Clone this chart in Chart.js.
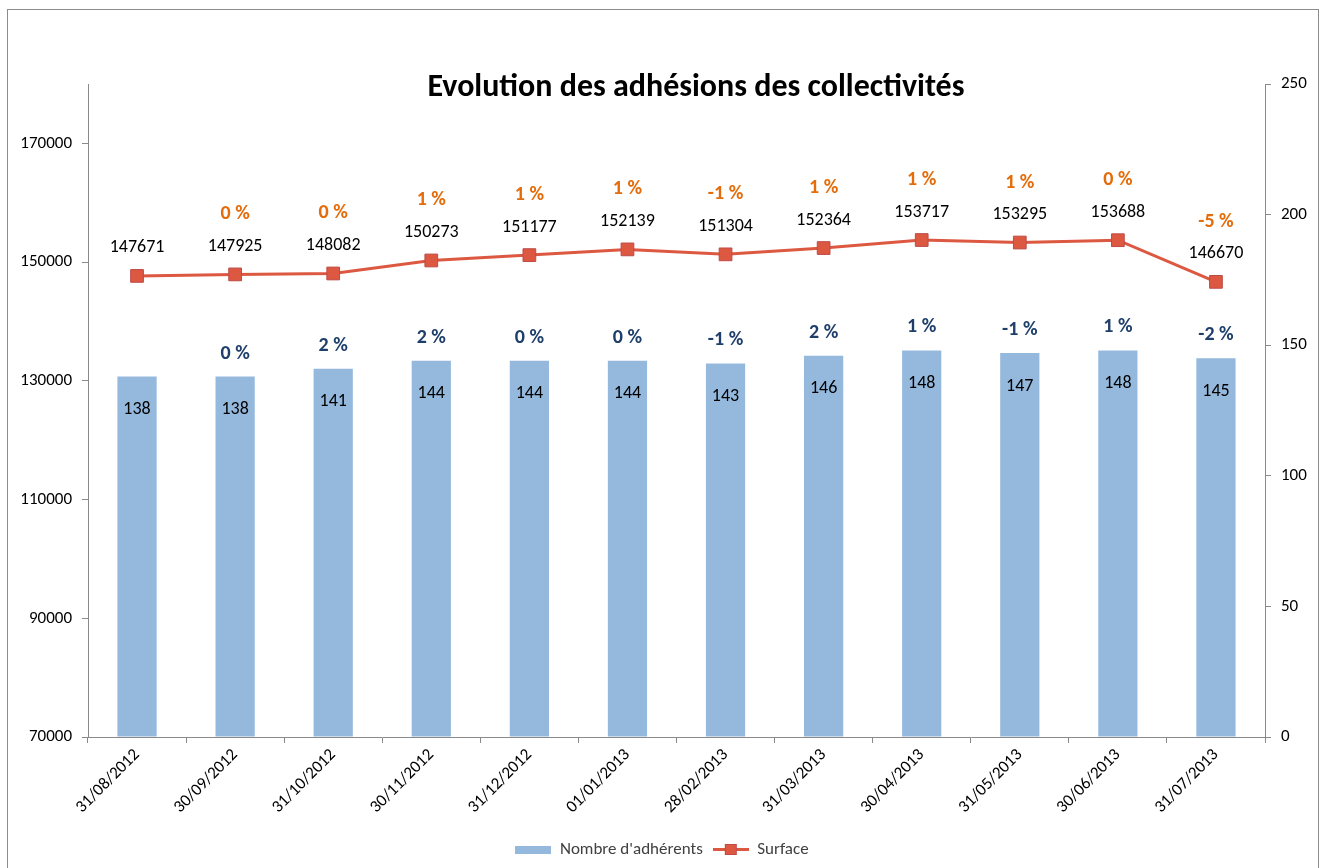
<!DOCTYPE html>
<html lang="fr">
<head>
<meta charset="UTF-8">
<title>Evolution des adhésions des collectivités</title>
<script src="https://cdn.jsdelivr.net/npm/chart.js"></script>
<style>
  body { margin: 0; background: #fff; }
  #frame { position: absolute; left: 7px; top: 9px; width: 1310px; height: 880px; border: 1px solid #8c8c8c; }
  #chart { position: absolute; left: 0; top: 0; }
</style>
</head>
<body>
<div id="frame"></div>
<canvas id="chart" width="1324" height="868"></canvas>
<script>
// données
const dates = ['31/08/2012', '30/09/2012', '31/10/2012', '30/11/2012', '31/12/2012', '01/01/2013',
               '28/02/2013', '31/03/2013', '30/04/2013', '31/05/2013', '30/06/2013', '31/07/2013'];
const adherents = [138, 138, 141, 144, 144, 144, 143, 146, 148, 147, 148, 145];
const surface = [147671, 147925, 148082, 150273, 151177, 152139, 151304, 152364, 153717, 153295, 153688, 146670];
const adherentsPct = ['', '0 %', '2 %', '2 %', '0 %', '0 %', '-1 %', '2 %', '1 %', '-1 %', '1 %', '-2 %'];
const surfacePct = ['', '0 %', '0 %', '1 %', '1 %', '1 %', '-1 %', '1 %', '1 %', '1 %', '0 %', '-5 %'];
const leftTicks = [70000, 90000, 110000, 130000, 150000, 170000];
const rightTicks = [0, 50, 100, 150, 200, 250];

const fam = 'Carlito, "Liberation Sans", sans-serif';
const barColor = '#95B9DD';
const lineColor = '#DC5840';
const axisColor = '#8a8a8a';

Chart.defaults.font.family = fam;
Chart.defaults.color = '#000';

// petites images pour la légende
function legendBar() {
  const c = document.createElement('canvas');
  c.width = 36; c.height = 8;
  const g = c.getContext('2d');
  g.fillStyle = barColor;
  g.fillRect(0, 0, 36, 8);
  return c;
}
function legendLine() {
  const c = document.createElement('canvas');
  c.width = 36; c.height = 13;
  const g = c.getContext('2d');
  g.fillStyle = lineColor;
  g.fillRect(0, 5, 36, 3);
  g.fillRect(12, 1, 12, 11);
  g.strokeStyle = '#BE4B48';
  g.lineWidth = 1;
  g.strokeRect(12.5, 1.5, 11, 10);
  return c;
}

// étiquettes de valeurs et pourcentages
const valueLabels = {
  id: 'valueLabels',
  afterDatasetsDraw(chart) {
    const ctx = chart.ctx;
    ctx.save();
    ctx.textAlign = 'center';
    ctx.textBaseline = 'middle';
    chart.getDatasetMeta(0).data.forEach((bar, i) => {
      ctx.font = '18px ' + fam;
      ctx.fillStyle = '#000';
      ctx.fillText(adherents[i], bar.x, bar.y + 33);
      if (adherentsPct[i]) {
        ctx.font = 'bold 20px ' + fam;
        ctx.fillStyle = '#1F3F6B';
        ctx.fillText(adherentsPct[i], bar.x, bar.y - 23);
      }
    });
    chart.getDatasetMeta(1).data.forEach((pt, i) => {
      ctx.font = '18px ' + fam;
      ctx.fillStyle = '#000';
      ctx.fillText(surface[i], pt.x, pt.y - 28);
      if (surfacePct[i]) {
        ctx.font = 'bold 20px ' + fam;
        ctx.fillStyle = '#E46C0A';
        ctx.fillText(surfacePct[i], pt.x, pt.y - 60);
      }
    });
    ctx.restore();
  },
  afterDraw(chart) {
    const ctx = chart.ctx;
    ctx.save();
    ctx.font = 'bold 32px ' + fam;
    ctx.fillStyle = '#000';
    ctx.textAlign = 'center';
    ctx.textBaseline = 'middle';
    ctx.fillText('Evolution des adhésions des collectivités', 696, 88);
    ctx.restore();
  }
};

const ctx = document.getElementById('chart').getContext('2d');
new Chart(ctx, {
  data: {
    labels: dates,
    datasets: [
      {
        type: 'bar',
        label: "Nombre d'adhérents",
        data: adherents,
        yAxisID: 'y1',
        backgroundColor: barColor,
        barPercentage: 0.8,
        categoryPercentage: 0.5,
        pointStyle: legendBar(),
        order: 1
      },
      {
        type: 'line',
        label: 'Surface',
        data: surface,
        yAxisID: 'y',
        borderColor: lineColor,
        borderWidth: 3,
        tension: 0,
        pointStyle: 'rect',
        pointRadius: 9,
        pointBackgroundColor: lineColor,
        pointBorderColor: '#BE4B48',
        pointBorderWidth: 1,
        order: 0
      }
    ]
  },
  options: {
    responsive: false,
    animation: false,
    devicePixelRatio: 1,
    layout: { padding: { top: 84, left: 0, right: 0, bottom: 0 } },
    plugins: {
      title: { display: false },
      tooltip: { enabled: false },
      legend: {
        position: 'bottom',
        labels: {
          font: { size: 17 },
          color: '#404040',
          padding: 10,
          usePointStyle: true,
          pointStyleWidth: 36,
          generateLabels(chart) {
            return [
              { text: "Nombre d'adhérents", pointStyle: legendBar(), datasetIndex: 0, fontColor: '#404040', lineWidth: 0 },
              { text: 'Surface', pointStyle: legendLine(), datasetIndex: 1, fontColor: '#404040', lineWidth: 0 }
            ];
          }
        }
      }
    },
    scales: {
      x: {
        grid: { display: true, drawOnChartArea: false, tickLength: 6, color: axisColor, offset: true },
        border: { color: axisColor },
        ticks: { minRotation: 45, maxRotation: 45, font: { size: 17 }, color: '#000', padding: 2 },
        afterFit(scale) { scale.height = 94; }
      },
      y: {
        position: 'left',
        min: 70000,
        max: 180000,
        grid: { display: true, drawOnChartArea: false, tickLength: 6, color: axisColor },
        border: { color: axisColor },
        ticks: { font: { size: 17 }, color: '#000', padding: 10, callback: v => String(v) },
        afterBuildTicks(scale) { scale.ticks = leftTicks.map(v => ({ value: v })); },
        afterFit(scale) { scale.width = 88; }
      },
      y1: {
        position: 'right',
        min: 0,
        max: 250,
        grid: { display: true, drawOnChartArea: false, tickLength: 6, color: axisColor },
        border: { color: axisColor },
        ticks: { font: { size: 17 }, color: '#000', padding: 10, callback: v => String(v) },
        afterBuildTicks(scale) { scale.ticks = rightTicks.map(v => ({ value: v })); },
        afterFit(scale) { scale.width = 1324 - 1265; }
      }
    }
  },
  plugins: [valueLabels]
});
</script>
</body>
</html>
